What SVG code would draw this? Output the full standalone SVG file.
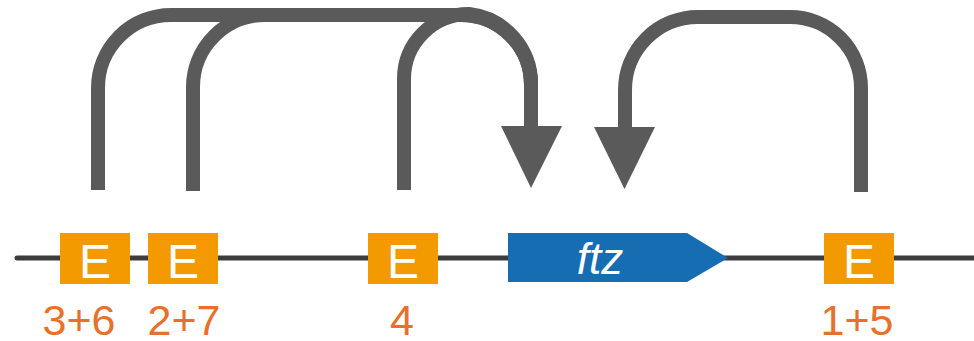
<svg xmlns="http://www.w3.org/2000/svg" width="974" height="341" viewBox="0 0 974 341">
  <style>
    .dna { stroke: #3c3c3c; stroke-width: 5; stroke-linecap: round; fill: none; }
    .link { stroke: #5a5a5a; stroke-width: 14; fill: none; stroke-linecap: butt; stroke-linejoin: round; }
    .head { fill: #5a5a5a; }
    .enh { fill: #f29a00; }
    .enh-t { fill: #ffffff; font-family: "Liberation Sans", Arial, sans-serif; font-size: 48px; text-anchor: middle; }
    .lbl { fill: #e8702a; font-family: "Liberation Sans", Arial, sans-serif; font-size: 43px; text-anchor: middle; }
    .gene { fill: #166db1; }
    .gene-t { fill: #ffffff; font-family: "Liberation Sans", Arial, sans-serif; font-size: 44px; font-style: italic; text-anchor: middle; }
  </style>

  <!-- chromosome backbone -->
  <line class="dna" x1="17" y1="258" x2="980" y2="258"/>

  <!-- regulatory loops -->
  <g id="connectors">
    <path class="link" d="M98,190 V88 A73,73 0 0 1 171,15 H461 A70,70 0 0 1 531,85 V128"/>
    <path class="link" d="M193,191 V87 A72,72 0 0 1 265,15 H461 A70,70 0 0 1 531,85 V128"/>
    <path class="link" d="M404,190 V79 A65,65 0 0 1 469,14 A70,70 0 0 1 531,85 V128"/>
    <polygon class="head" points="501,126 562,126 531,188"/>
    <path class="link" d="M861,192 V88 A71,71 0 0 0 790,17 H698 A73,73 0 0 0 625,90 V129"/>
    <polygon class="head" points="594,127 655,127 624.5,189"/>
  </g>

  <g id="enhancer-3-6">
    <rect class="enh" x="60" y="233" width="70" height="51"/>
    <text class="enh-t" x="95" y="278">E</text>
    <text class="lbl" x="79" y="335">3+6</text>
  </g>

  <g id="enhancer-2-7">
    <rect class="enh" x="148" y="233" width="70" height="51"/>
    <text class="enh-t" x="183" y="278">E</text>
    <text class="lbl" x="184" y="335">2+7</text>
  </g>

  <g id="enhancer-4">
    <rect class="enh" x="368" y="233" width="70" height="51"/>
    <text class="enh-t" x="403" y="278">E</text>
    <text class="lbl" x="402" y="335">4</text>
  </g>

  <g id="gene-ftz">
    <polygon class="gene" points="508,233 687,233 728,258 687,282 508,282"/>
    <text class="gene-t" x="600" y="274">ftz</text>
  </g>

  <g id="enhancer-1-5">
    <rect class="enh" x="824" y="233" width="70" height="51"/>
    <text class="enh-t" x="859" y="278">E</text>
    <text class="lbl" x="857" y="335">1+5</text>
  </g>
</svg>
